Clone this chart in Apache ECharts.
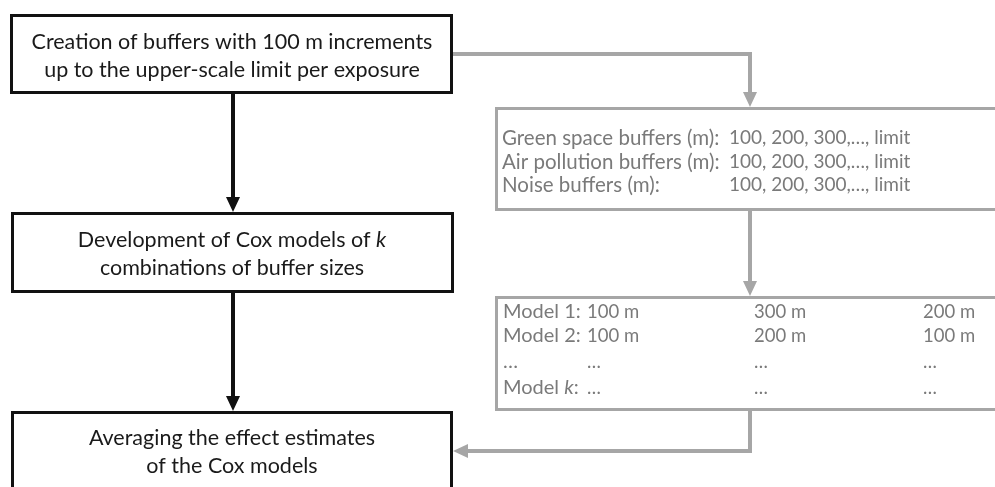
<!DOCTYPE html>
<html>
<head>
<meta charset="utf-8">
<script src="https://cdn.jsdelivr.net/npm/echarts@6/dist/echarts.min.js"></script>
<style>
  html, body { margin: 0; padding: 0; background: #fff; }
  #main { width: 995px; height: 487px; }
</style>
</head>
<body>
<div id="main"></div>
<script>
// texts of the flow chart
var stepLines = [
  ['Creation of buffers with 100 m increments', 'up to the upper-scale limit per exposure'],
  ['Development of Cox models of {i|k}', 'combinations of buffer sizes'],
  ['Averaging the effect estimates', 'of the Cox models']
];
var bufferNames = ['Green space buffers (m):', 'Air pollution buffers (m):', 'Noise buffers (m):'];
var bufferSizes = ['100, 200, 300,…, limit', '100, 200, 300,…, limit', '100, 200, 300,…, limit'];
var modelNames = ['Model 1:', 'Model 2:', '…', 'Model {i|k}:'];
var modelCol1 = ['100 m', '100 m', '…', '…'];
var modelCol2 = ['300 m', '200 m', '…', '…'];
var modelCol3 = ['200 m', '100 m', '…', '…'];

var FONT = 'Lato, "Open Sans", sans-serif';
var BLACK = '#111';
var GREY = '#a6a6a6';
var GREYTXT = '#7a7a7a';

var chart = echarts.init(document.getElementById('main'));
var els = [];

function box(x, y, w, h, color) {
  els.push({ type: 'rect', shape: { x: x, y: y, width: w, height: h },
    style: { fill: '#fff', stroke: color, lineWidth: 3 } });
}
function line(points, color) {
  els.push({ type: 'polyline', shape: { points: points },
    style: { stroke: color, lineWidth: 4, fill: null } });
}
function head(points, color) {
  els.push({ type: 'polygon', shape: { points: points }, style: { fill: color } });
}
function txt(str, x, y, size, color, align) {
  els.push({ type: 'text', x: x, y: y, style: {
    text: str, font: size + 'px ' + FONT, fill: color,
    align: align || 'center', verticalAlign: 'middle',
    rich: { i: { fontStyle: 'italic', fontSize: size, fontFamily: FONT, fill: color } }
  } });
}

// black boxes
box(11.5, 15.5, 440, 77, BLACK);
box(12.5, 213.5, 440, 78, BLACK);
box(12.5, 412.5, 439, 100, BLACK);
var stepY = [[42, 70], [240, 268], [438, 466]];
stepLines.forEach(function (ls, i) {
  ls.forEach(function (s, j) { txt(s, 232, stepY[i][j], 21.5, '#1a1a1a'); });
});

// black arrows
line([[233, 94], [233, 198]], BLACK);
head([[226, 197], [240, 197], [233, 212]], BLACK);
line([[233, 293], [233, 397]], BLACK);
head([[226, 396], [240, 396], [233, 411]], BLACK);

// grey boxes
box(496.5, 108.5, 520, 101, GREY);
box(496.5, 297.5, 520, 112, GREY);

// grey arrows
line([[453, 54], [750, 54], [750, 93]], GREY);
head([[743, 92], [757, 92], [750, 107]], GREY);
line([[750, 211], [750, 282]], GREY);
head([[743, 281], [757, 281], [750, 296]], GREY);
line([[750, 411], [750, 451], [467, 451]], GREY);
head([[468, 444], [468, 458], [453, 451]], GREY);

var bufY = [138, 162, 185];
bufferNames.forEach(function (s, i) {
  txt(s, 502, bufY[i], 20.5, GREYTXT, 'left');
  txt(bufferSizes[i], 729, bufY[i], 19, GREYTXT, 'left');
});

var modY = [312, 336, 362, 388];
modelNames.forEach(function (s, i) {
  txt(s, 503, modY[i], 20, GREYTXT, 'left');
  txt(modelCol1[i], 587, modY[i], 18.5, GREYTXT, 'left');
  txt(modelCol2[i], 754, modY[i], 18.5, GREYTXT, 'left');
  txt(modelCol3[i], 923, modY[i], 18.5, GREYTXT, 'left');
});

chart.setOption({
  backgroundColor: '#fff',
  animation: false,
  graphic: { elements: els }
});
</script>
</body>
</html>
